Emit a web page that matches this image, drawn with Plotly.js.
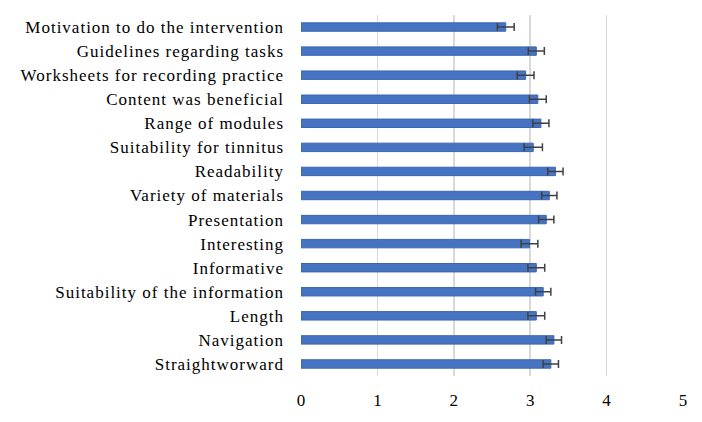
<!DOCTYPE html>
<html>
<head>
<meta charset="utf-8">
<script src="https://cdn.plot.ly/plotly-3.0.1.min.js"></script>
<style>
html,body{margin:0;padding:0;background:#fff;}
#chart{width:702px;height:422px;}
#chart .ytick text{letter-spacing:1px;}
</style>
</head>
<body>
<div id="chart"></div>
<script>
const categories = [
  "Motivation to do the intervention",
  "Guidelines regarding tasks",
  "Worksheets for recording practice",
  "Content was beneficial",
  "Range of modules",
  "Suitability for tinnitus",
  "Readability",
  "Variety of materials",
  "Presentation",
  "Interesting",
  "Informative",
  "Suitability of the information",
  "Length",
  "Navigation",
  "Straightworward"
];
const means = [2.68, 3.08, 2.94, 3.10, 3.14, 3.04, 3.33, 3.25, 3.21, 2.99, 3.08, 3.17, 3.08, 3.31, 3.27];
const errors = [0.11, 0.105, 0.11, 0.11, 0.105, 0.12, 0.1, 0.1, 0.1, 0.11, 0.11, 0.1, 0.11, 0.1, 0.1];
const xTicks = [0, 1, 2, 3, 4, 5];

const trace = {
  type: 'bar',
  orientation: 'h',
  x: means,
  y: categories,
  marker: {color: '#4674C2', line: {color: '#3b66b0', width: 1}},
  error_x: {type: 'data', array: errors, visible: true, color: '#404040', thickness: 1.5, width: 4},
  hoverinfo: 'none'
};

const layout = {
  width: 702,
  height: 422,
  margin: {l: 301, r: 19, t: 15, b: 46},
  paper_bgcolor: '#ffffff',
  plot_bgcolor: '#ffffff',
  showlegend: false,
  bargap: 0.65,
  font: {family: '"Liberation Serif", "Times New Roman", serif', size: 17, color: '#000000'},
  xaxis: {
    range: [0, 5],
    tickvals: xTicks,
    ticktext: xTicks.map(String),
    showgrid: true,
    gridcolor: '#d9d9d9',
    gridwidth: 1.5,
    zeroline: false,
    showline: false,
    ticks: '',
    ticklabelstandoff: 12,
    tickfont: {size: 17}
  },
  yaxis: {
    autorange: 'reversed',
    showgrid: false,
    zeroline: false,
    showline: false,
    ticks: '',
    ticklabelstandoff: 16,
    tickfont: {size: 17}
  }
};

Plotly.newPlot('chart', [trace], layout, {displayModeBar: false, staticPlot: true});
</script>
</body>
</html>
